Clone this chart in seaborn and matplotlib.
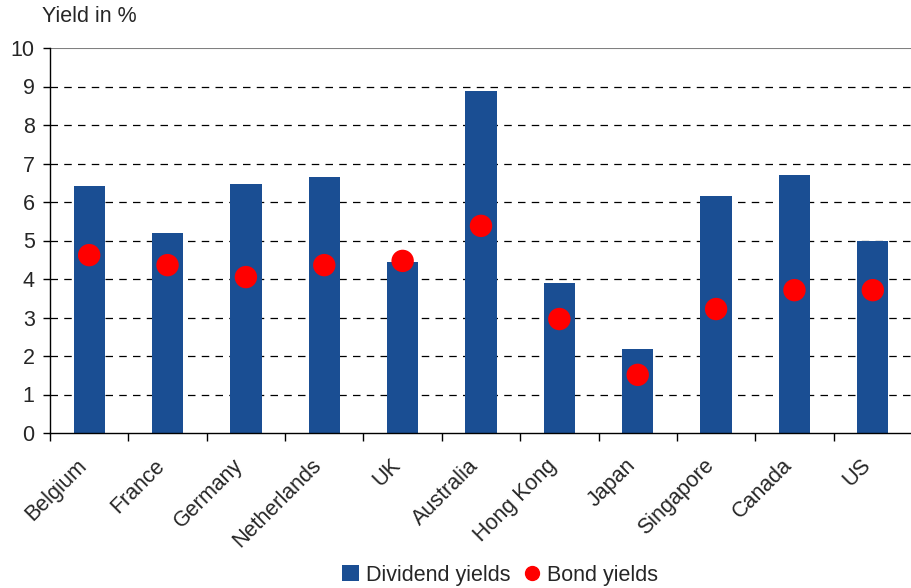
import matplotlib
matplotlib.use("Agg")
import matplotlib.pyplot as plt
from matplotlib.lines import Line2D
from matplotlib.patches import Patch
import seaborn as sns
import pandas as pd

countries = ["Belgium", "France", "Germany", "Netherlands", "UK", "Australia",
             "Hong Kong", "Japan", "Singapore", "Canada", "US"]
dividend_yields = [6.42, 5.19, 6.47, 6.65, 4.44, 8.88, 3.90, 2.18, 6.16, 6.70, 4.99]
bond_yields = [4.62, 4.36, 4.05, 4.36, 4.47, 5.38, 2.96, 1.51, 3.22, 3.71, 3.71]

df = pd.DataFrame({"country": countries, "dividend": dividend_yields, "bond": bond_yields})

sns.set_theme(style="white")
plt.rcParams["font.family"] = ["Liberation Sans", "DejaVu Sans"]

bar_color = "#1a4e93"
dot_color = "#ff0000"
fs = 15.5

fig = plt.figure(figsize=(9.12, 5.88), dpi=100)
ax = fig.add_axes([50 / 912, 1 - 433 / 588, 1 - 50 / 912, (433 - 48) / 588])

sns.barplot(data=df, x="country", y="dividend", color=bar_color, width=0.4,
            saturation=1, linewidth=0, edgecolor="none", ax=ax, zorder=2)
sns.scatterplot(data=df, x="country", y="bond", color=dot_color, s=260,
                edgecolor="none", ax=ax, zorder=3)

ax.set_xlim(-0.5, len(countries) - 0.5)
ax.set_ylim(0, 10)
ax.set_yticks(range(0, 11))
for yv in range(1, 10):
    ax.axhline(yv, color="black", lw=0.9, ls=(0, (6, 5)), zorder=1)
ax.axhline(10, color="#808080", lw=1.5, zorder=1)

for s in ["top", "right"]:
    ax.spines[s].set_visible(False)
for s in ["left", "bottom"]:
    ax.spines[s].set_visible(True)
    ax.spines[s].set_color("black")
    ax.spines[s].set_linewidth(1.0)

# category separators on the x axis, names placed below each category
ax.set_xticks([i - 0.5 for i in range(len(countries) + 1)], minor=True)
ax.set_xticks(range(len(countries)))
ax.set_xticklabels([])
for i, name in enumerate(countries):
    ax.annotate(name, xy=(i, 0), xycoords=("data", "axes fraction"),
                xytext=(-13, -22), textcoords="offset pixels",
                rotation=45, rotation_mode="anchor", ha="right", va="top",
                fontsize=fs, annotation_clip=False)
ax.tick_params(axis="x", which="major", length=0)
ax.tick_params(axis="x", which="minor", length=6, width=1, color="black", direction="out", bottom=True)
ax.tick_params(axis="y", length=5, width=1, color="black", direction="out", left=True,
               labelsize=fs, pad=6)
ax.set_xlabel("")
ax.set_ylabel("")

fig.text(42 / 912, 1 - 17 / 588, "Yield in %", fontsize=fs, va="center", ha="left")

handles = [Patch(facecolor=bar_color, edgecolor="none", label="Dividend yields"),
           Line2D([], [], marker="o", ls="none", color=dot_color, markersize=10, label="Bond yields")]
fig.legend(handles=handles, loc="center", bbox_to_anchor=(500 / 912, 1 - 575 / 588), ncol=2,
           frameon=False, fontsize=fs, handlelength=0.8, handleheight=0.8, handletextpad=0.3,
           columnspacing=0.6, borderpad=0)

fig.savefig("out.png", dpi=100)
